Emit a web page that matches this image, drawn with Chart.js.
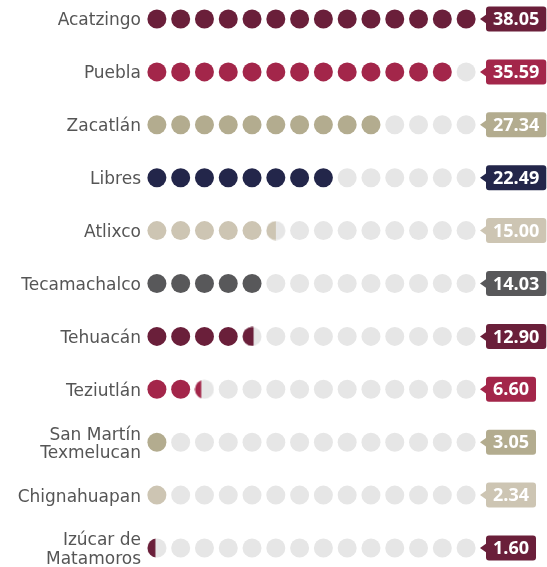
<!DOCTYPE html>
<html>
<head>
<meta charset="utf-8">
<script src="https://cdn.jsdelivr.net/npm/chart.js@4/dist/chart.umd.min.js"></script>
<style>
  html, body { margin: 0; background: #fff; }
  #wrap { width: 547px; height: 567px; }
</style>
</head>
<body>
<div id="wrap"><canvas id="chart"></canvas></div>
<script>
const municipios = ['Acatzingo', 'Puebla', 'Zacatlán', 'Libres', 'Atlixco', 'Tecamachalco', 'Tehuacán', 'Teziutlán', ['San Martín', 'Texmelucan'], 'Chignahuapan', ['Izúcar de', 'Matamoros']];
const valores = [38.05, 35.59, 27.34, 22.49, 15.00, 14.03, 12.90, 6.60, 3.05, 2.34, 1.60];
// dots filled per row (fraction = partly filled dot)
const puntosLlenos = [14, 13, 10, 8, 5.5, 5, 4.58, 2.33, 1, 1, 0.42];
const totalPuntos = 14;
const colores = ['#6a1f3a', '#a3264a', '#b3ac8f', '#23264a', '#cdc5b3', '#58585a', '#6a1f3a', '#a3264a', '#b3ac8f', '#cdc5b3', '#6a1f3a'];
const vacio = '#e6e6e6';

// image only for the partly filled dots
function mediaBola(color, frac) {
  const c = document.createElement('canvas');
  c.width = 20; c.height = 20;
  const g = c.getContext('2d');
  g.fillStyle = vacio;
  g.beginPath(); g.arc(10, 10, 9.5, 0, Math.PI * 2); g.fill();
  g.save();
  g.beginPath(); g.rect(0, 0, 0.5 + 19 * frac, 20); g.clip();
  g.fillStyle = color;
  g.beginPath(); g.arc(10, 10, 9.5, 0, Math.PI * 2); g.fill();
  g.restore();
  return c;
}

const datasets = municipios.map((m, i) => {
  const pts = [];
  for (let k = 1; k <= totalPuntos; k++) {
    pts.push({ x: k, y: i, f: Math.max(0, Math.min(1, puntosLlenos[i] - (k - 1))) });
  }
  const partial = pts.find(p => p.f > 0 && p.f < 1);
  const img = partial ? mediaBola(colores[i], partial.f) : null;
  return {
    data: pts,
    clip: false,
    pointRadius: 9.5,
    pointBorderWidth: 0,
    pointBackgroundColor: ctx => (ctx.raw.f >= 1 ? colores[i] : vacio),
    pointStyle: ctx => (ctx.raw.f > 0 && ctx.raw.f < 1 ? img : 'circle'),
  };
});

const etiquetas = {
  id: 'etiquetas',
  afterDatasetsDraw(chart) {
    const { ctx, chartArea, scales: { y } } = chart;
    ctx.save();
    ctx.font = 'bold 18px "Open Sans"';
    valores.forEach((v, i) => {
      const cy = y.getPixelForValue(i);
      const txt = v.toFixed(2);
      const w = ctx.measureText(txt).width + 14;
      const x0 = chartArea.right + 8;
      const h = 25;
      ctx.fillStyle = colores[i];
      ctx.beginPath();
      ctx.roundRect(x0, cy - h / 2, w, h, 3);
      ctx.fill();
      ctx.beginPath();
      ctx.moveTo(x0 + 1, cy - 5);
      ctx.lineTo(x0 - 6, cy);
      ctx.lineTo(x0 + 1, cy + 5);
      ctx.fill();
      ctx.fillStyle = '#fff';
      ctx.textAlign = 'center';
      ctx.textBaseline = 'middle';
      ctx.fillText(txt, x0 + w / 2, cy + 1);
    });
    ctx.restore();
  }
};

new Chart(document.getElementById('chart'), {
  type: 'scatter',
  data: { datasets },
  plugins: [etiquetas],
  options: {
    responsive: true,
    maintainAspectRatio: false,
    animation: false,
    layout: { padding: { top: 19, bottom: 19, right: 69, left: 0 } },
    scales: {
      x: { type: 'linear', min: 0.5, max: 14.5, display: false },
      y: {
        type: 'linear',
        reverse: true,
        min: 0,
        max: municipios.length - 1,
        grid: { display: false, drawTicks: false },
        border: { display: false },
        ticks: {
          stepSize: 1,
          color: '#555',
          font: { family: 'DejaVu Sans', size: 17, lineHeight: 1.07 },
          padding: 4,
          labelOffset: 2,
          callback: v => municipios[v],
        },
        afterFit: s => {
          s.width = 145;
          s.paddingTop = 0;
          s.paddingBottom = 0;
        },
      },
    },
    plugins: {
      legend: { display: false },
      tooltip: { enabled: false },
    },
  },
});
</script>
</body>
</html>
